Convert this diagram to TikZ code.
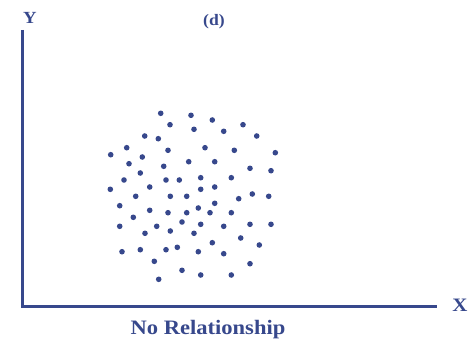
\documentclass[tikz,border=0pt]{standalone}
\usepackage{fontspec}
\setmainfont{Liberation Serif}[FakeStretch=1.1]
\definecolor{inkblue}{RGB}{55,72,140}
\begin{document}
\begin{tikzpicture}[x=1pt,y=-1pt,
	lbl/.style={text=inkblue,font=\bfseries\fontsize{#1}{#1}\selectfont,inner sep=0pt},
	axisline/.style={draw=inkblue,line width=3pt},
	dot/.style={fill=inkblue}]
	\useasboundingbox (0,0) rectangle (471,345);
	
	\coordinate (o) at (22,306);
	\coordinate (ytop) at (22,30);
	\coordinate (xend) at (437,306);
	\node (ylab) at (30,18) [lbl=17] {Y};
	\node (xlab) at (460,305) [lbl=19] {X};
	\node (title) at (214,22) [lbl=16] {(d)};
	\node (caption) at (208,330) [lbl=20.5] {No Relationship};
	
	\draw[axisline] (ytop) -- (o) -- (xend);
	
	\foreach \x/\y in {160.7/113.3, 191/115.3, 212.3/120, 170/124.7, 243/124.7,
		194/129.3, 223.7/131.3, 144.7/136, 158.3/138.7, 256.7/136,
		126.7/147.7, 205/147.7, 168/150.3, 234.3/150.3, 275.3/152.7,
		110.7/154.7, 142.3/157, 129/163.7, 188.7/161.7, 214.7/161.7,
		163.7/166.3, 250/168.3, 271/170.7, 140.3/173, 124/180,
		166/180, 179.3/180, 200.7/177.7, 231.3/177.7, 110.3/189.3,
		149.7/187, 200.7/189.3, 214.7/187, 135.7/196.3, 170.3/196.3,
		186.7/196.3, 238.7/198.7, 252.3/194, 268.7/196.3, 119.7/205.7,
		214.7/203.3, 149.7/210.3, 168/212.7, 186.7/212.7, 198.3/208,
		210/212.7, 231.3/212.7, 133.3/217.3, 182/222, 200.7/224.3,
		119.7/226.3, 156.7/226.3, 223.7/226.3, 250/224.3, 271/224.3,
		170.3/231, 145/233.3, 194/233.3, 240.7/238, 212.3/242.7,
		177.3/247.3, 166/249.7, 140.3/249.7, 122/251.7, 259.3/245,
		198.3/251.7, 223.7/253.7, 154.3/261.3, 250/263.7, 182/270.3,
		200.7/275, 231.3/275, 158.7/279.3}
		\fill[dot] (\x,\y) circle (2.8);
\end{tikzpicture}
\end{document}
